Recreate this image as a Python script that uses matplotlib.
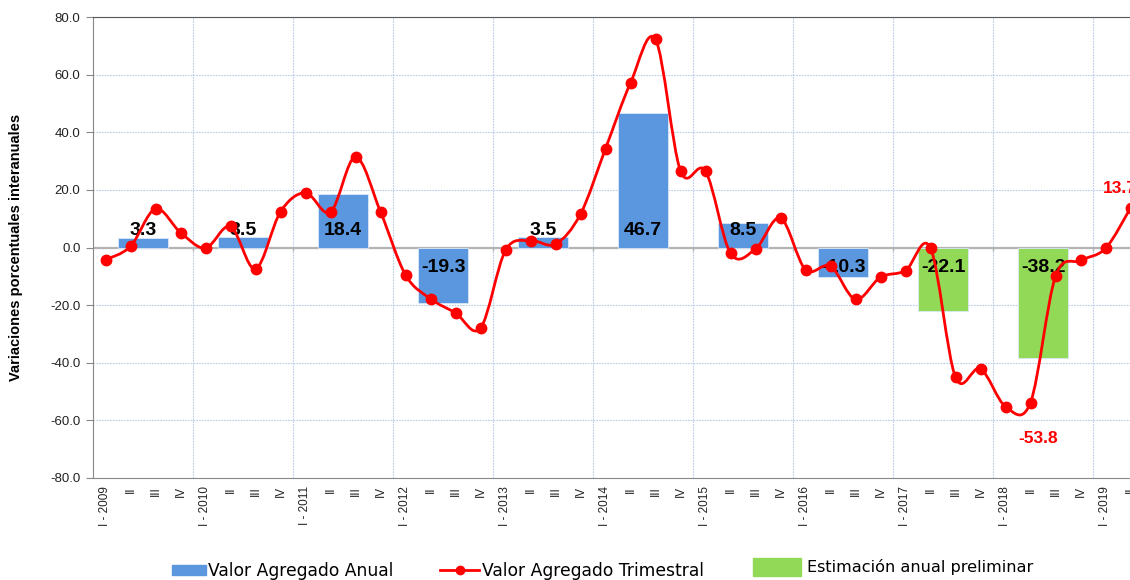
import numpy as np
import matplotlib
matplotlib.use('Agg')
import matplotlib.pyplot as plt
import matplotlib.patches as mpatches
from matplotlib.lines import Line2D
from matplotlib.path import Path
from matplotlib import font_manager

# quarterly labels, I-2009 .. II-2019
years = list(range(2009, 2020))
quarter_labels = []
for y in years:
    quarter_labels += ['I - {}'.format(y), 'II', 'III', 'IV']
quarter_labels = quarter_labels[:42]

trimestral = [-4.3, 0.4, 13.4, 5.2,
              -0.2, 7.3, -7.4, 12.4,
              19.0, 12.3, 31.4, 12.4,
              -9.5, -17.8, -22.7, -28.0,
              -1.0, 2.4, 1.2, 11.6,
              34.3, 57.1, 72.2, 26.6,
              26.5, -2.0, -0.5, 10.2,
              -7.7, -6.5, -18.0, -10.3,
              -8.0, -0.2, -45.0, -42.1,
              -55.2, -53.8, -10.0, -4.5,
              -0.3, 13.7]

anual_years = [2009, 2010, 2011, 2012, 2013, 2014, 2015, 2016, 2017, 2018]
anual = [3.3, 3.5, 18.4, -19.3, 3.5, 46.7, 8.5, -10.3, -22.1, -38.2]
preliminar = [False] * 8 + [True, True]

# labelled quarterly points (index, value)
red_labels = [(37, -53.8), (41, 13.7)]

BLUE = '#5b97df'
GREEN = '#92d957'
RED = '#ff0000'
GRID = '#b9cde8'

# condensed font for the bar values if there is one
names = {f.name for f in font_manager.fontManager.ttflist}
bar_font = 'Liberation Sans Narrow' if 'Liberation Sans Narrow' in names else 'Liberation Sans'
bar_size = 16 if bar_font == 'Liberation Sans Narrow' else 14


def smooth_path(xs, ys):
    # excel-like smoothed line: cubic bezier through every point
    pts = np.column_stack([xs, ys])
    n = len(pts)
    verts = [pts[0]]
    codes = [Path.MOVETO]
    for i in range(n - 1):
        p0 = pts[i - 1] if i > 0 else pts[i]
        p1 = pts[i]
        p2 = pts[i + 1]
        p3 = pts[i + 2] if i + 2 < n else pts[i + 1]
        c1 = p1 + (p2 - p0) / 6.0
        c2 = p2 - (p3 - p1) / 6.0
        verts += [c1, c2, p2]
        codes += [Path.CURVE4] * 3
    return Path(verts, codes)


fig = plt.figure(figsize=(11.3, 5.8), dpi=100)
ax = fig.add_axes([93 / 1130, 1 - 478 / 580, 1050 / 1130, 461 / 580])

x = np.arange(len(trimestral))
ax.set_xlim(-0.5, len(trimestral) - 0.5)
ax.set_ylim(-80, 80)

# grid
ax.set_yticks(np.arange(-80, 81, 20))
ax.set_yticklabels(['{:.1f}'.format(v) for v in np.arange(-80, 81, 20)],
                   fontfamily='Liberation Sans', fontsize=9.5, color='#222222')
for v in np.arange(-60, 81, 20):
    ax.axhline(v, color=GRID, lw=0.8, ls=(0, (1.5, 1)), zorder=0)
for b in np.arange(3.5, len(trimestral), 4):
    ax.axvline(b, color=GRID, lw=0.8, ls=(0, (1.5, 1)), zorder=0)
ax.axhline(0, color='#b3b3b3', lw=1.6, zorder=1)
ax.vlines(np.arange(3.5, len(trimestral), 4), -1.2, 0, color='#b3b3b3', lw=1, zorder=1)

# annual bars
bar_x = [4 * (yr - 2009) + 1.5 for yr in anual_years]
bar_colors = [GREEN if p else BLUE for p in preliminar]
ax.bar(bar_x, anual, width=2, color=bar_colors, edgecolor='#dbe8f7', lw=0.6, zorder=2)
for bx, val in zip(bar_x, anual):
    ty = 6 if val > 0 else -7
    ax.text(bx, ty, '{:.1f}'.format(val), ha='center', va='center',
            fontfamily=bar_font, fontsize=bar_size, fontweight='bold',
            color='black', zorder=3)

# quarterly line
ax.add_patch(mpatches.PathPatch(smooth_path(x, trimestral), fill=False,
                                edgecolor=RED, lw=2, zorder=4))
ax.plot(x, trimestral, 'o', color=RED, ms=7.5, zorder=5, clip_on=False)
for i, val in red_labels:
    if val < 0:
        ax.text(i + 0.3, val - 12.5, '{:.1f}'.format(val), ha='center', va='center',
                fontfamily='Liberation Sans', fontsize=12.5, fontweight='bold', color=RED)
    else:
        ax.text(i - 1.1, val + 6.8, '{:.1f}'.format(val), ha='left', va='center',
                fontfamily='Liberation Sans', fontsize=12.5, fontweight='bold', color=RED)

# axes
ax.set_xticks(x)
ax.set_xticklabels(quarter_labels, rotation=90, fontfamily='Liberation Sans',
                   fontsize=8.5, color='#222222')
ax.tick_params(axis='x', length=0, pad=6)
ax.tick_params(axis='y', length=5, color='#888888', pad=4)
for side in ['left', 'bottom']:
    ax.spines[side].set_color('#888888')
ax.spines['top'].set_color('#555555')
ax.spines['right'].set_visible(False)
ax.set_ylabel('Variaciones porcentuales interanuales', fontfamily='Liberation Sans',
              fontsize=10.5, fontweight='bold')
ax.yaxis.set_label_coords(-0.067, 0.5)

# legend, three separate pieces like the original
leg_font = {'family': 'DejaVu Sans', 'size': 12.3}
fig.legend(handles=[mpatches.Patch(color=BLUE, label='Valor Agregado Anual')],
           loc='center left', bbox_to_anchor=(172 / 1130, 1 - 571 / 580), frameon=False,
           prop=leg_font, handlelength=2.0, handleheight=0.6, handletextpad=0.1,
           borderpad=0, borderaxespad=0)
fig.legend(handles=[Line2D([], [], color=RED, lw=2, marker='o', ms=6,
                           label='Valor Agregado Trimestral')],
           loc='center left', bbox_to_anchor=(440 / 1130, 1 - 571 / 580), frameon=False,
           prop=leg_font, handlelength=2.3, handletextpad=0.15,
           borderpad=0, borderaxespad=0)
fig.legend(handles=[mpatches.Patch(color=GREEN, label='Estimación anual preliminar')],
           loc='center left', bbox_to_anchor=(753 / 1130, 1 - 567 / 580), frameon=False,
           prop={'family': 'DejaVu Sans', 'size': 11.6}, handlelength=3.0, handleheight=1.3,
           handletextpad=0.35, borderpad=0, borderaxespad=0)

fig.savefig('out.png', dpi=100)
